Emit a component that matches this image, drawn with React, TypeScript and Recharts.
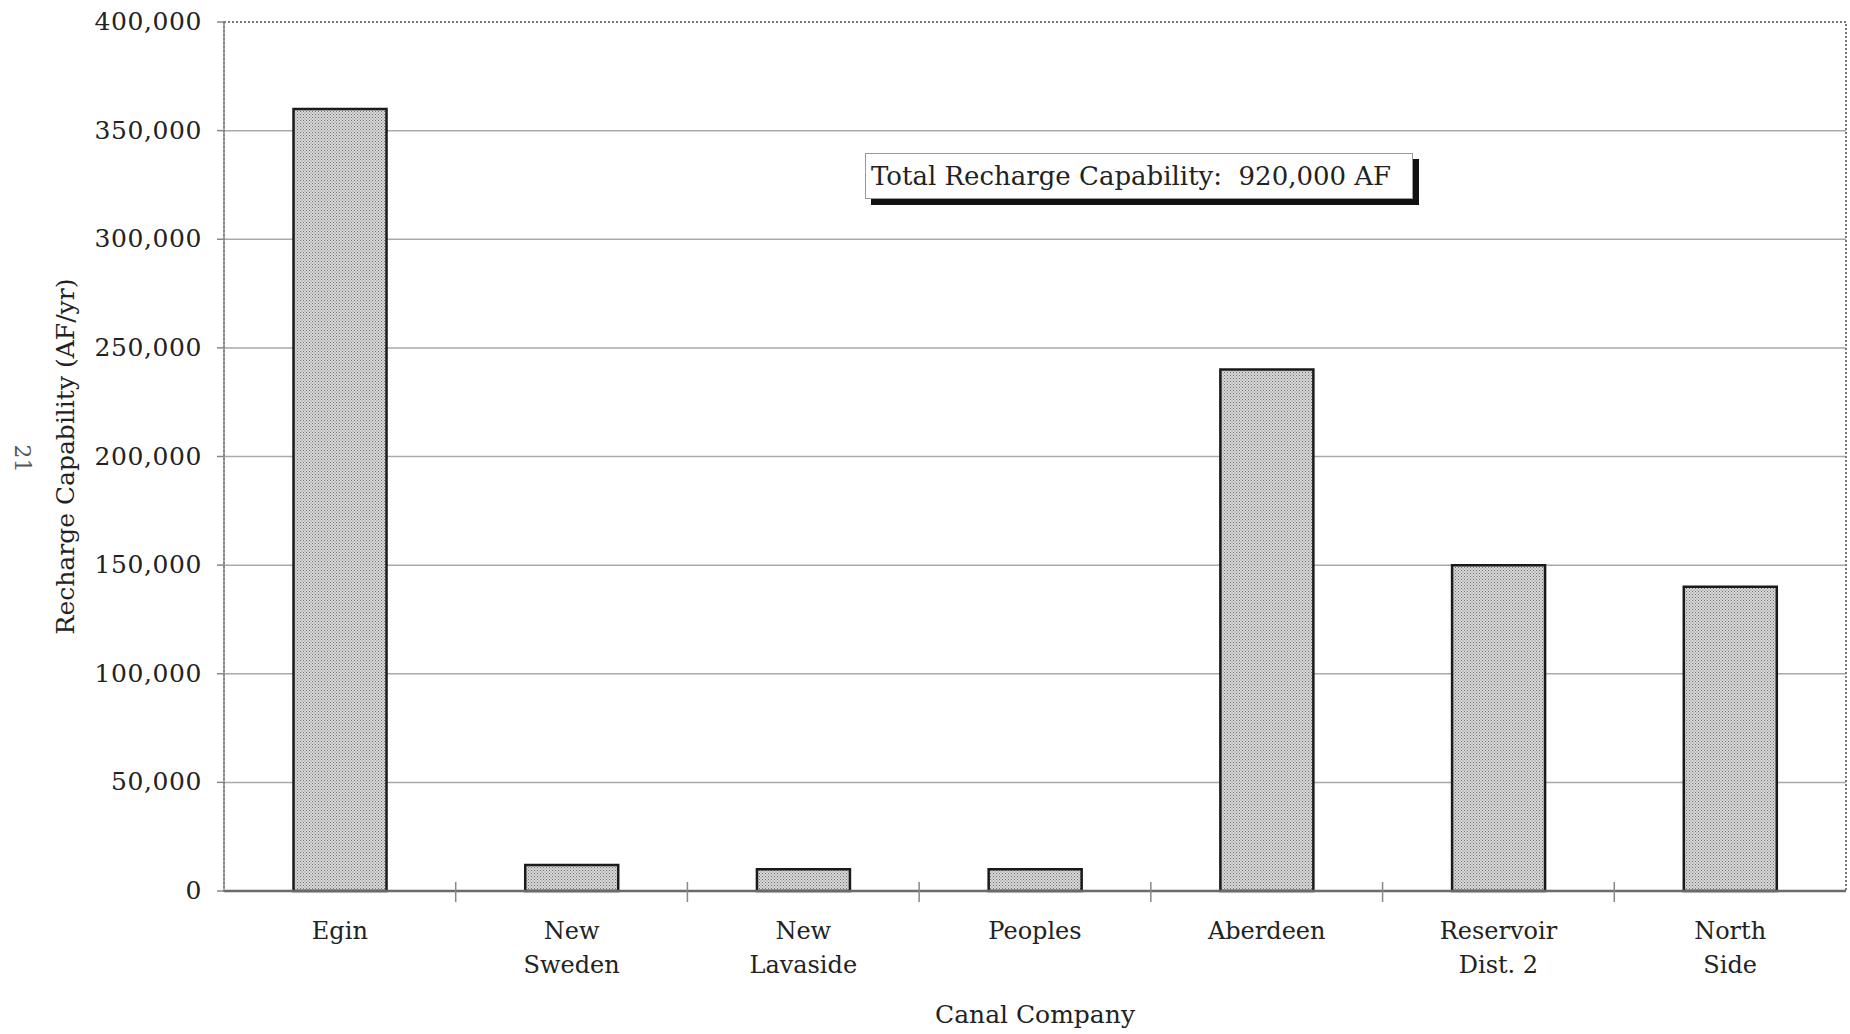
import React from "react";
import {
  BarChart,
  Bar,
  XAxis,
  YAxis,
  CartesianGrid,
  ReferenceArea,
} from "recharts";

const categories = [
  "Egin",
  "New\nSweden",
  "New\nLavaside",
  "Peoples",
  "Aberdeen",
  "Reservoir\nDist. 2",
  "North\nSide",
];
const rechargeValues = [360000, 12000, 10000, 10000, 240000, 150000, 140000];
const yTicks = [0, 50000, 100000, 150000, 200000, 250000, 300000, 350000, 400000];
const gridValues = [50000, 100000, 150000, 200000, 250000, 300000, 350000];
const yAxisTitle = "Recharge Capability (AF/yr)";
const xAxisTitle = "Canal Company";
const noteText = "Total Recharge Capability:  920,000 AF";
const pageNumber = "21";

const data = categories.map((c, i) => ({ name: c, value: rechargeValues[i] }));

const FONT = "'DejaVu Serif', serif";

const fmt = (v: number) => v.toLocaleString("en-US");

const CategoryTick = (props: any) => {
  const { x, y, payload, index, visibleTicksCount } = props;
  const lines = String(payload.value).split("\n");
  const half = payload && payload.offset ? payload.offset : 0;
  const last = (visibleTicksCount || categories.length) - 1;
  return (
    <g>
      {half > 0 && index < last ? (
        <line
          x1={x + half}
          x2={x + half}
          y1={y - 9}
          y2={y + 11}
          stroke="#888"
          strokeWidth={1.5}
        />
      ) : null}
      <text
        x={x}
        y={y}
        textAnchor="middle"
        fontFamily={FONT}
        fontSize={24}
        fill="#222"
      >
        {lines.map((l, i) => (
          <tspan key={i} x={x} dy={i === 0 ? 48 : 34}>
            {l}
          </tspan>
        ))}
      </text>
    </g>
  );
};

const YTick = (props: any) => {
  const { x, y, payload } = props;
  return (
    <text
      x={x}
      y={y}
      dy={8}
      textAnchor="end"
      fontFamily={FONT}
      fontSize={25}
      letterSpacing={0.6}
      fill="#222"
    >
      {fmt(payload.value)}
    </text>
  );
};

export default function App() {
  return (
    <div
      style={{
        position: "absolute",
        left: 0,
        top: 0,
        width: 1850,
        height: 1034,
        background: "#fff",
      }}
    >
      <BarChart
        width={1850}
        height={1034}
        data={data}
        margin={{ top: 22, right: 4, left: 0, bottom: 0 }}
        barCategoryGap="30%"
      >
        <defs>
          <pattern
            id="stipple"
            width="3"
            height="3"
            patternUnits="userSpaceOnUse"
          >
            <rect width="3" height="3" fill="#d8d8d8" />
            <rect x="0" y="0" width="1" height="1" fill="#707070" />
            <rect x="1.5" y="1.5" width="1" height="1" fill="#808080" />
          </pattern>
        </defs>
        <CartesianGrid
          vertical={false}
          horizontalValues={gridValues}
          stroke="#a9a9a9"
          strokeWidth={1.5}
        />
        <ReferenceArea
          y1={0}
          y2={400000}
          fill="none"
          fillOpacity={0}
          stroke="#7a7a7a"
          strokeWidth={2}
          strokeDasharray="2 2"
        />
        <XAxis
          dataKey="name"
          interval={0}
          height={143}
          tickLine={false}
          tickSize={0}
          tickMargin={0}
          axisLine={{ stroke: "#6a6a6a", strokeWidth: 2.5 }}
          tick={<CategoryTick />}
          label={{
            content: (p: any) => {
              const vb = p.viewBox;
              return (
                <text
                  x={1035}
                  y={vb.y + 132}
                  textAnchor="middle"
                  fontFamily={FONT}
                  fontSize={25}
                  fill="#222"
                >
                  {xAxisTitle}
                </text>
              );
            },
          }}
        />
        <YAxis
          width={224}
          domain={[0, 400000]}
          ticks={yTicks}
          interval={0}
          tickSize={7}
          tickMargin={15}
          tickLine={{ stroke: "#888", strokeWidth: 1.5 }}
          axisLine={{ stroke: "#8a8a8a", strokeWidth: 1.5 }}
          tick={<YTick />}
          label={{
            content: (p: any) => {
              const vb = p.viewBox;
              const cy = vb.y + vb.height / 2;
              return (
                <text
                  x={65}
                  y={cy}
                  transform={`rotate(-90, 65, ${cy})`}
                  textAnchor="middle"
                  dominantBaseline="central"
                  fontFamily={FONT}
                  fontSize={25}
                  fill="#222"
                >
                  {yAxisTitle}
                </text>
              );
            },
          }}
        />
        <Bar
          dataKey="value"
          fill="url(#stipple)"
          stroke="#1a1a1a"
          strokeWidth={2.5}
          isAnimationActive={false}
        />
      </BarChart>
      <div
        style={{
          position: "absolute",
          left: 865,
          top: 153,
          width: 548,
          height: 46,
          border: "1.5px solid #999",
          boxShadow: "6px 6px 0 #111",
          background: "#fff",
          fontFamily: FONT,
          fontSize: 26,
          color: "#222",
          lineHeight: "44px",
          paddingLeft: 5,
          boxSizing: "border-box",
          whiteSpace: "pre",
        }}
      >
        {noteText}
      </div>
      <div
        style={{
          position: "absolute",
          left: 8,
          top: 446,
          fontFamily: FONT,
          fontSize: 22,
          color: "#555",
          transform: "rotate(90deg)",
          transformOrigin: "center",
        }}
      >
        {pageNumber}
      </div>
    </div>
  );
}
